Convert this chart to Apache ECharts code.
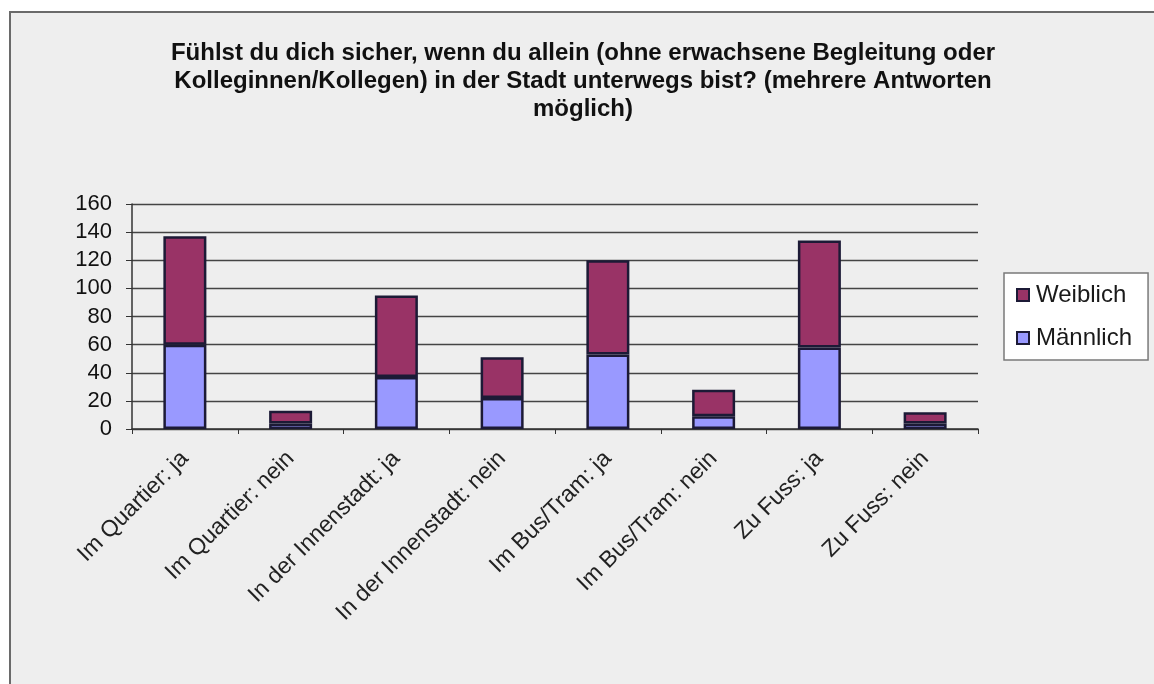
<!DOCTYPE html>
<html>
<head>
<meta charset="utf-8">
<script src="https://cdn.jsdelivr.net/npm/echarts@6/dist/echarts.min.js"></script>
<style>
  html, body { margin: 0; padding: 0; background: #ffffff; }
  #chart { width: 1154px; height: 684px; }
</style>
</head>
<body>
<div id="chart"></div>
<script>
// Survey answers by place, split by gender
const categories = [
  'Im Quartier: ja', 'Im Quartier: nein',
  'In der Innenstadt: ja', 'In der Innenstadt: nein',
  'Im Bus/Tram: ja', 'Im Bus/Tram: nein',
  'Zu Fuss: ja', 'Zu Fuss: nein'
];
const maennlich = [60, 4, 37, 22, 53, 9, 58, 4];
const weiblich  = [77, 9, 58, 29, 67, 19, 76, 8];
const yTicks = { min: 0, max: 160, interval: 20 };

const titleText = 'Fühlst du dich sicher, wenn du allein (ohne erwachsene Begleitung oder\n' +
                  'Kolleginnen/Kollegen) in der Stadt unterwegs bist? (mehrere Antworten\n' +
                  'möglich)';

const FONT = 'Arial, "Liberation Sans", sans-serif';
const barBorder = '#1c1a36';

const chart = echarts.init(document.getElementById('chart'), null, { renderer: 'canvas' });
chart.setOption({
  backgroundColor: '#ffffff',
  animation: false,
  graphic: [{
    type: 'rect',
    z: -100,
    silent: true,
    shape: { x: 10, y: 12, width: 1160, height: 700 },
    style: { fill: '#eeeeee', stroke: '#6a6a6a', lineWidth: 2 }
  }],
  title: {
    text: titleText,
    left: 578,
    top: 34,
    textAlign: 'center',
    textStyle: {
      fontFamily: FONT,
      fontSize: 24,
      fontWeight: 'bold',
      color: '#111111',
      lineHeight: 28
    }
  },
  legend: {
    orient: 'vertical',
    left: 1004,
    top: 273,
    padding: [10, 16, 10, 12],
    itemGap: 19,
    itemWidth: 12,
    itemHeight: 12,
    backgroundColor: '#ffffff',
    borderColor: '#7a7a7a',
    borderWidth: 1.5,
    borderRadius: 0,
    icon: 'rect',
    data: ['Weiblich', 'Männlich'],
    textStyle: { fontFamily: FONT, fontSize: 24, color: '#1a1a1a', padding: [0, 0, 0, 2] }
  },
  grid: { left: 132, right: 176, top: 204, bottom: 255 },
  xAxis: {
    type: 'category',
    data: categories,
    boundaryGap: true,
    axisLine: { lineStyle: { color: '#333333', width: 1.5 } },
    axisTick: { show: true, length: 5, inside: false, lineStyle: { color: '#333333' } },
    axisLabel: {
      rotate: 45,
      interval: 0,
      margin: 26,
      fontFamily: FONT,
      fontSize: 23,
      color: '#222222'
    }
  },
  yAxis: {
    type: 'value',
    min: yTicks.min,
    max: yTicks.max,
    interval: yTicks.interval,
    axisLine: { show: true, lineStyle: { color: '#333333', width: 1.5 } },
    axisTick: { show: true, length: 6, lineStyle: { color: '#333333' } },
    axisLabel: { fontFamily: FONT, fontSize: 22, color: '#111111', margin: 20 },
    splitLine: { show: true, lineStyle: { color: '#444444', width: 1.4 } }
  },
  series: [
    {
      name: 'Männlich',
      type: 'bar',
      stack: 'total',
      barWidth: 43,
      data: maennlich,
      itemStyle: { color: '#9999ff', borderColor: barBorder, borderWidth: 2.5 }
    },
    {
      name: 'Weiblich',
      type: 'bar',
      stack: 'total',
      barWidth: 43,
      data: weiblich,
      itemStyle: { color: '#993366', borderColor: barBorder, borderWidth: 2.5 }
    }
  ]
});
</script>
</body>
</html>
